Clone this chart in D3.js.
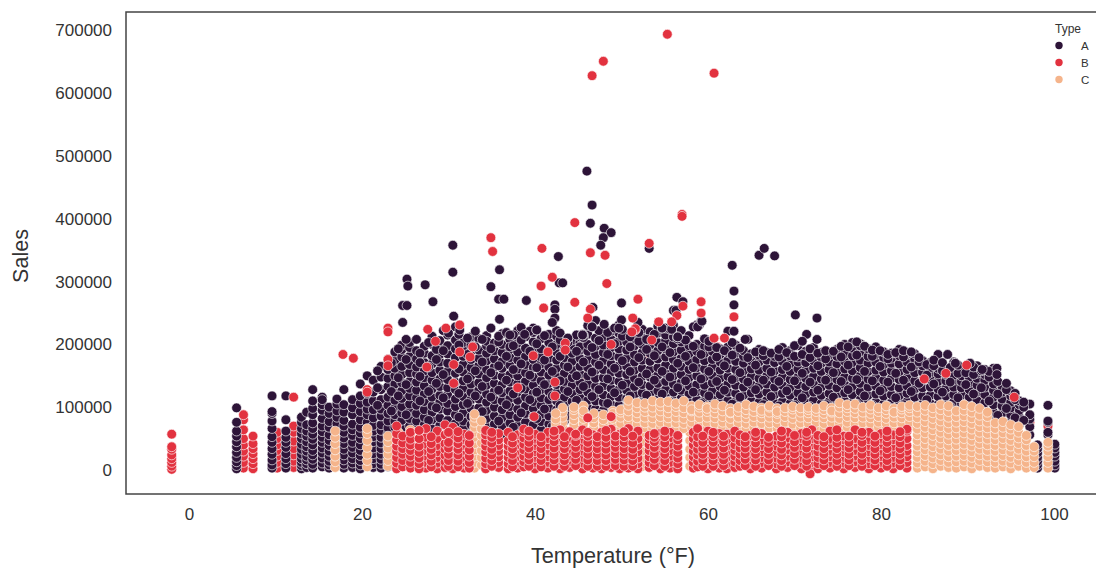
<!DOCTYPE html>
<html><head><meta charset="utf-8">
<script src="https://cdn.jsdelivr.net/npm/d3@7"></script>
<style>html,body{margin:0;background:#fff}svg{display:block}text{font-family:"Liberation Sans",Arial,sans-serif;fill:#333}</style>
</head><body><div id="c"></div>
<script>
// Each row: temperature (F), then sales values in thousands
const seriesA = [
[5.5,2,7,13,20,28,37,45,54,62,76,99],[9.6,3,8,16,25,34,44,53,66,78,90,93,118],[11.2,3,10,18,26,36,44,52,62,80,118],
[13.0,2,7,12,18,25,33,41,50,58,66,76,84],[13.6,4,10,16,22,30,37,45,54,62,72,92],[14.3,3,9,17,24,31,40,49,57,66,75,88,98,110,128],
[15.4,5,11,19,27,35,44,52,61,70,82,95,104,116,112],[16.2,3,8,14,22,30,39,47,56,68,77,90,100],[17.1,66,74,84,94,105,113],
[17.9,3,9,16,24,33,42,51,60,70,79,92,104,128],[18.9,4,11,18,27,36,44,55,64,73,88,99,112],[19.8,2,8,15,23,31,40,50,59,68,80,93,106,118,137],
[20.6,66,76,88,97,108,122,150],[21.3,4,10,18,26,35,45,53,62,71,83,96,110,124,143],[22.2,3,9,17,25,34,43,52,63,72,86,97,112,128,148,165],
[23.0,5,12,20,30,39,48,58,67,78,90,103,116,133,146,160,176],[23.8,68,78,88,99,111,124,137,150,162,175,188],
[24.6,66,79,91,101,114,126,139,152,165,180,192,199],[25.5,70,82,93,105,118,130,141,155,168,181,195,203],
[26.3,67,78,90,103,115,127,140,153,164,177,190,208],[27.2,72,84,96,109,121,134,147,158,171,186,197],
[28.1,66,80,92,102,116,129,143,155,169,182,200,213],[29.0,71,83,97,108,119,133,145,159,172,184,196,206],
[29.9,68,79,94,106,120,131,144,157,170,185,198,215],[30.8,60,74,88,101,113,128,140,154,166,179,193,207,228],
[31.7,66,78,91,104,117,130,142,156,168,181,194,203],[32.6,58,72,85,98,112,124,137,150,163,176,189,199,212],
[33.5,61,74,87,99,113,127,139,153,166,178,191,209],[34.4,56,69,82,95,108,121,135,147,160,174,186,198,214,205],
[35.3,60,73,86,100,112,125,138,151,164,177,190,202],[36.2,57,70,83,96,110,123,136,149,162,173,187,200,217],
[37.1,62,75,88,101,114,126,140,152,167,179,192,208,196],[38.0,58,71,84,97,111,124,137,150,161,175,188,202,222],
[38.9,63,76,90,102,116,129,141,155,168,181,194,212],[39.8,59,72,85,98,109,122,135,148,163,176,190,204,219,226],
[40.7,64,77,89,103,115,128,142,156,169,180,193,209],[41.6,60,73,86,99,112,125,138,151,164,178,191,203,216],
[42.5,72,85,96,110,123,136,149,162,175,188,200,213,222],[43.4,78,90,104,116,129,141,154,167,179,192,205],
[44.3,85,97,109,122,135,147,160,173,186,198,207],[45.2,90,102,115,128,140,153,165,178,191,203,212,196],
[46.1,86,99,111,124,137,150,163,176,189,200,216,230],[47.0,84,97,110,122,133,146,159,172,184,197,210,238],
[47.9,82,95,108,120,134,147,160,174,187,199,212,225],[48.8,78,91,104,117,130,143,156,169,182,195,208,221],
[49.7,76,90,103,116,128,141,154,166,180,193,205,218,231],[50.6,88,101,114,127,139,152,165,178,191,204,216],
[51.5,95,108,120,133,146,159,172,184,198,208],[52.4,98,110,123,136,149,162,175,187,200,211,224],
[53.3,96,109,122,134,148,160,173,186,199,212,220],[54.2,100,113,126,138,151,163,177,190,203,218,229],
[55.1,103,116,128,141,154,167,180,193,206,215,226],[56.0,98,111,124,137,150,162,176,188,201,212,254,231],
[56.9,101,114,127,139,152,165,178,191,204,222],[57.8,95,108,121,134,147,160,173,185,198,214],
[58.7,99,112,125,136,150,163,176,189,200,231],[59.6,97,110,123,135,148,161,174,186,197,209],
[60.5,100,113,126,139,151,164,176,189,198],[61.4,94,107,120,133,146,159,172,184,193],
[62.3,98,111,124,137,149,162,175,187,196,221],[63.2,96,109,122,135,147,160,173,186,199],
[64.1,93,106,119,132,145,158,170,181,190],[65.0,97,110,123,136,149,161,174,185],
[65.9,95,108,121,134,146,159,172,183,192],[66.8,98,111,124,137,150,162,175,187],
[67.7,94,107,120,132,145,158,171,181],[68.6,96,109,122,135,148,160,173,184,195],
[69.5,93,106,119,131,144,157,169,182,190],[70.4,97,110,123,136,148,161,172,180,198],
[71.3,95,108,121,133,146,159,171,183,189],[72.2,98,111,124,137,149,162,174,184,195],
[73.1,94,106,119,132,145,157,170,179,187],[74.0,96,109,122,135,147,160,172,183],
[74.9,93,105,118,131,144,156,169,181,192],[75.8,97,110,123,136,148,161,173,185,200],
[76.7,95,107,120,133,146,158,171,182,194,203],[77.6,99,112,125,138,150,163,175,188,201,198],
[78.5,94,106,119,132,145,157,170,181,193],[79.4,96,108,121,134,147,159,172,184,196],
[80.3,92,105,118,130,143,156,168,179,188],[81.2,95,107,120,133,146,158,170,178,186],
[82.1,93,106,118,131,144,156,169,182,192],[83.0,96,109,122,134,147,160,172,184,187],
[83.9,90,103,116,129,142,155,167,176,185],[84.8,92,105,118,131,143,156,166,174],
[85.7,94,106,119,132,144,155,163,171],[86.6,90,104,117,129,141,153,162,169,184],
[87.5,92,105,118,130,142,152,160],[88.4,96,108,120,132,143,151,172,170],
[89.3,94,106,119,131,141,150,161],[90.2,90,103,116,128,139,148,158],
[91.1,86,99,111,124,135,146,154,166],[92.0,82,95,107,120,132,143,152,160],
[93.0,80,92,104,116,127,137,150,162,152],[94.0,78,90,102,113,124,132],
[95.0,76,88,99,108,118,126],[96.0,72,84,95,104,110],[97.2,56,69,81,88,105],
[98.1,3,8,14,20,27,34,40],[99.3,56,60,76,78,103],[100.1,3,8,14,22,28,35,41]
];
// Second layer of A dots, off the columns above, that breaks up the texture of the mass
const seriesAOver = [
[21.8,103,131,158],[23.4,94,125,171],[24.2,118,147,193],[25.1,88,136,176,208],[26.7,110,149,186,171],[27.7,79,125,164,203],[28.6,99,138,176,192],
[29.4,115,152,190,222],[31.2,84,122,161,199,216],[32.2,106,145,184,210],[33.1,72,118,158,196,221],[33.9,93,133,172,208],[34.9,116,155,193,226],
[35.8,78,127,166,204,213],[36.7,104,143,181,219],[37.5,68,121,160,198,215],[38.4,91,130,169,207,227],[39.4,112,151,189,221],[40.2,82,124,163,201,223],
[41.1,97,136,175,214],[42.0,69,118,157,196,235],[42.9,103,142,181,207,218],[43.8,86,125,164,203,210],[44.8,111,150,189,215],[45.6,94,133,172,211,215],
[46.6,117,156,195,228],[47.4,89,128,167,206,222],[48.4,106,145,184,219],[49.2,84,123,162,201,226],[50.1,96,135,174,213,224],[51.0,118,157,196,212],
[52.0,107,140,179,205,219],[52.9,119,153,192,208],[53.8,104,143,182,216],[54.7,121,157,196,226],[55.6,109,148,187,224],[56.5,131,170,209,212],
[57.4,103,142,181,207],[58.3,124,163,197,228],[59.2,106,145,184,237],[60.1,118,157,196,205],[61.0,102,141,180,195],[61.9,127,166,190],
[62.8,105,144,183,203],[63.7,116,155,194],[64.6,101,140,179,208],[65.5,128,167,188],[66.4,104,143,182,190],[67.3,117,156,186],
[68.2,102,141,180,192],[69.1,126,165,187],[70.0,103,142,181,198],[70.9,115,154,184],[71.8,101,140,179,193],[72.7,127,166,186],
[73.6,104,143,177,190],[74.5,116,155,189],[75.4,102,141,180,197],[76.2,128,167,196],[77.2,105,144,183,204],[78.1,118,157,197],
[79.0,103,142,181,191],[79.9,126,165,190],[80.8,101,140,177,184],[81.7,115,154,187],[82.6,104,143,180,190],[83.5,125,164,188],
[84.4,99,138,172,179],[85.3,112,151,168],[86.1,98,137,166,175],[87.1,124,158,171],[88.0,101,140,163],[88.9,115,154,167],[89.8,97,136,155],
[90.7,121,152,164],[91.6,93,131,158],[92.5,110,148,157],[93.5,87,121,141],[94.5,98,128,138],[95.5,83,112,122],[96.5,79,100,108]
];
const seriesC = [
[16.9,4,13,22,32,42,52,62],[20.6,5,15,25,36,47,58,66],[23.0,6,15,25,35,45,54],[24.2,8,18,28,38,48,60],[25.6,5,14,24,34,44,56,64],
[33.0,3,12,22,32,42,52,60,68,76,84,89],[33.8,8,20,31,43,55,66,78],[52.3,5,18,30,44,58],[57.9,6,20,33,47,60],[44.5,66,72,80,88,96,100],[43.2,68,76,84,92,99],[42.4,68,74,81,90],
[45.6,66,74,82,90,102,94],[46.8,68,75,83,90],[47.9,66,73,80,88],[49.0,68,75,82,94,90],[49.9,66,74,84,92,96],[50.8,67,76,85,94,103,111],
[51.8,65,73,83,91,99,107],[52.7,67,75,84,93,100,106],[53.6,66,74,83,92,100,110],[54.5,68,76,85,94,102,108],[55.4,65,74,83,91,99,109],
[56.3,67,75,84,93,101,106],[57.2,66,74,82,91,99,110],[58.1,68,76,85,94,102,96],[59.0,65,74,83,92,100,104],[59.9,67,75,84,93,101,98],
[60.8,66,74,83,91,99,105],[61.7,68,76,85,94,102],[62.6,65,73,82,91,98,92],[63.5,67,75,84,93,100],[64.4,66,74,83,90,96,104],
[65.3,68,76,85,93,101],[66.2,65,74,83,91,99,95],[67.1,67,75,84,92,100,102],[68.0,66,74,82,90,98,93],[68.9,68,76,85,93,99],
[69.8,65,73,82,90,97,101],[70.7,67,75,84,92,99],[71.6,66,74,83,91,96,100],[72.5,68,76,85,93,98],[73.4,65,74,83,90,96,102],
[74.3,67,75,84,92,99,94],[75.2,66,74,82,91,100,107],[76.1,68,76,85,93,99,104],[77.0,65,73,83,91,98,105],[77.9,67,75,84,92,100],
[78.8,66,74,83,90,97,103],[79.7,68,76,85,93,99],[80.6,65,74,82,90,96,102],[81.5,67,75,84,92,98,92],[82.4,66,74,83,91,97,101],
[83.3,68,76,85,93,99,103],
[84.2,3,11,20,29,38,47,56,65,74,83,92,101],[85.1,5,14,23,32,41,50,59,68,77,86,95,103],[86.0,2,10,19,28,37,46,55,64,73,82,91,99],
[86.9,6,15,24,33,42,51,60,69,78,87,96,104],[87.8,4,12,21,30,39,48,57,66,75,84,93,102],[88.7,3,13,22,31,40,49,58,67,76,85,94],
[89.6,5,14,23,32,41,50,59,68,77,86,95,104],[90.5,2,11,20,29,38,47,56,65,74,83,92,101],[91.4,6,15,24,33,42,51,60,69,78,87,98],
[92.3,4,13,22,31,40,49,58,67,76,85,92],[93.2,3,12,21,30,39,48,57,66,75],[94.1,5,14,23,32,41,50,59,68,77],
[95.0,2,11,20,29,38,47,56,65,72],[95.9,6,15,24,33,42,51,60,69],[96.8,3,12,21,30,39,48,55],[97.7,4,12,21,30,37],
[99.3,3,12,21,30,38,44]
];
const seriesB = [
[-2.0,1,6,12,18,24,33,37,57],[7.4,2,10,18,26,34,42,54],
[24.0,2,11,20,30,38,48,58,70],[24.7,5,15,25,34,43,54],[27.4,3,12,22,31,41,52,66],[28.7,2,11,20,29,39,50,62],[29.6,4,13,23,33,42,56,72],
[30.5,2,10,19,28,37,46,55,68],[31.8,3,11,20,30,39,48,57],[34.3,2,10,19,29,38,47,56,63],[35.8,4,12,21,30,39,48,58],[36.9,2,10,20,29,38,47,60],
[38.0,3,11,21,30,40,49,56],[38.7,5,13,22,32,41,51,61,65],[40.0,2,11,20,29,39,49,57],[41.5,3,12,21,31,40,50,60],[42.9,2,10,19,28,38,48,58,64],
[44.0,4,13,22,31,41,50,61],[45.5,2,11,20,30,39,49,58,64],[46.7,3,12,21,30,40,49,56],[47.7,2,10,20,29,38,48,60],[48.8,4,13,22,31,41,50,58,65],
[49.8,2,11,21,30,39,49,57],[50.8,3,12,20,29,38,48,59,66],[51.9,2,10,19,29,39,50,62],[53.2,4,12,21,31,40,50,55],[54.5,2,11,20,30,39,47,58],
[55.6,3,12,22,31,41,51,60],[56.5,2,10,19,28,38,48,55],[58.3,3,12,21,30,40,50,60],[58.8,5,14,24,33,43,53,66],[60.0,2,11,20,29,39,49,62],
[61.3,3,12,21,31,41,50,58],[62.2,2,10,20,29,38,48,57],[63.1,4,13,22,31,40,51,62],[64.9,2,11,21,30,40,49,55],[66.2,3,12,20,29,39,48,58],
[67.9,2,10,19,28,38,47,54],[69.2,4,13,22,32,41,51,60],[70.8,2,11,20,30,39,50,58],[72.0,3,12,21,31,40,50,64],[72.7,2,10,20,29,38,48,55],
[74.1,3,12,21,30,40,49,62],[75.7,2,11,20,29,38,48,54],[77.0,4,13,22,31,41,50,64],[78.6,2,10,20,29,39,48,60],[80.0,3,12,21,30,40,49,58],
[81.4,2,11,20,29,38,48,56],[83.0,3,12,21,30,39,50,62,65],[71.8,-6],
[25.6,3,12,22,31,40,49,60],[26.6,2,10,19,28,38,50,63],[28.0,5,14,24,33,42,53],[30.0,6,15,25,35,44,60],[31.1,5,14,24,33,42,51,61],[32.4,3,12,22,32,43,55],
[35.0,6,15,24,33,43,52,60],[37.4,5,15,25,34,43,53],[39.3,6,16,25,35,44,54,62],[40.7,5,15,25,34,44,53],[42.2,6,16,25,35,45,55,62],[43.4,6,15,24,34,43,53],
[44.7,7,17,26,36,45,55,57],[46.1,6,16,25,35,44,54,60],[47.2,6,15,25,34,44,53],[48.2,6,15,24,33,43,52,63],[49.3,7,17,26,36,45,54],[50.3,6,16,25,34,44,53,61],
[51.3,6,15,24,33,43,54],[53.8,7,17,26,36,45,52,58],[55.0,6,15,25,34,43,53,62],[59.4,6,16,25,34,44,54],[60.6,6,15,24,34,44,53,60],[61.8,7,16,25,35,45,54],
[63.7,6,15,25,35,45,56],[64.3,7,17,26,35,44,53],[65.5,6,16,25,34,43,53,60],[67.0,7,16,25,34,44,52],[68.5,6,15,24,33,43,53,62],[70.0,7,17,26,36,45,55],
[71.4,6,15,25,35,45,55,60],[73.4,7,16,25,34,44,53],[74.9,6,15,25,34,43,52,64],[76.3,7,16,25,35,44,54],[77.8,6,15,25,35,44,55,60],[79.3,7,16,25,34,44,54],
[80.7,6,15,25,34,44,53,62],[82.2,7,16,25,34,43,53,61]
];
// B dots that sit underneath the A dots and only show as slivers
const seriesBUnder = [
[6.3,3,12,22,30,40,50,64,80,88],[10.2,3,12,22,31,40,50,60],[12.1,4,14,24,34,46,60,70],
[52.8,195,178],[57.5,205,188],[61.1,196,183],[60.1,190],[45.8,150],[37.6,172],[33.8,160],[40.6,145],[86.0,150],[93.2,158],[95.0,104],[97.2,76],[99.3,70],[92.0,118]
];
const outliersA = [[46,476],[46.6,422],[46.4,393],[48,385],[48.8,378],[47.9,370],[47.6,358],[53.2,353],[30.5,358],[30.5,315],[25.2,304],[25.3,293],[27.3,295],[28.2,268],[42.7,340],[35.9,319],[34.9,292],[42.8,298],[43.2,298],[35.8,272],[36.4,272],[39,270],[24.7,262],[25.2,262],[30.6,245],[50,266],[46.7,259],[35.9,240],[24.7,235],[42.3,263],[42.3,256],[42.3,242],[42,235],[48,232],[50,239],[31.3,223],[30,218],[34.9,226],[40.2,223],[46.6,228],[45.5,216],[49.7,226],[51.9,235],[62.8,326],[63,285],[65.9,342],[66.5,353],[67.7,341],[70.1,247],[72.6,242],[56.4,275],[57.1,268],[56.3,254],[59,231],[63,263],[63,221],[71.4,216],[70.9,205],[72.6,208],[87.7,184],[88.6,170],[90.3,170],[91.7,160],[93.4,162],[93.4,152],[37.1,215],[38.8,216],[43.8,210],[45.5,215],[54.7,226],[55.8,224],[56.5,212],[58.8,228],[59.3,237],[64.3,208]];
const outliersB = [[55.3,694],[47.9,651],[46.6,628],[60.7,632],[57,407],[57,404],[44.6,394],[34.9,370],[35.1,348],[40.8,353],[53.2,361],[46.4,346],[48.1,342],[48.3,297],[40.7,293],[42,307],[51.9,272],[44.6,267],[41,258],[46.4,256],[46.1,242],[51.3,242],[51.6,223],[31.3,231],[29.7,226],[27.6,224],[23,226],[23,220],[59.2,268],[57.1,261],[59.2,250],[63,244],[56.4,246],[54.3,236],[55.8,236],[60.7,210],[61.9,210],[53.5,207],[51.6,225],[51.2,220],[32.8,196],[31.3,188],[32.5,180],[30.6,168],[30.6,138],[43.5,202],[43.5,191],[41.5,188],[39.8,182],[48.8,200],[42.3,140],[42.3,118],[38,131],[46.1,83],[48.8,85],[39.9,85],[87.5,154],[89.9,167],[85,145],[95.4,116],[17.8,184],[19,178],[20.6,128],[20.6,124],[23,176],[23,166],[27.5,164],[28.5,205],[12.1,116]];
const typeLabels = ["A","B","C"];
const typeColors = ["#2d1438","#e2323f","#f5b48b"];
const xTicks = [0,20,40,60,80,100];
const yTicks = [0,100000,200000,300000,400000,500000,600000,700000];

const W=1096,H=570;
const x=d3.scaleLinear().domain([0,100]).range([189,1054]);
const y=d3.scaleLinear().domain([0,700000]).range([470,30.5]);
const svg=d3.select("#c").append("svg").attr("width",W).attr("height",H);

const flatten=t=>t.flatMap(r=>r.slice(1).map(v=>[r[0],v]));
const layers=[
 [flatten(seriesBUnder),typeColors[1]],
 [flatten(seriesA),typeColors[0]],
 [[...flatten(seriesAOver),...outliersA],typeColors[0]],
 [flatten(seriesC),typeColors[2]],
 [[...flatten(seriesB),...outliersB],typeColors[1]]
];
layers.forEach(([pts,col])=>{
 svg.append("g").selectAll("circle").data(pts).join("circle")
  .attr("cx",d=>x(d[0])).attr("cy",d=>y(d[1]*1000)).attr("r",4.9)
  .attr("fill",col).attr("stroke","#fff").attr("stroke-width",0.8).attr("stroke-opacity",0.8);
});

const gx=svg.append("g").attr("transform","translate(0,494)").call(d3.axisBottom(x).tickValues(xTicks).tickSize(0).tickPadding(14).tickFormat(d3.format("d")));
const gy=svg.append("g").attr("transform","translate(126,0)").call(d3.axisLeft(y).tickValues(yTicks).tickSize(0).tickPadding(14).tickFormat(d3.format("d")));
[gx,gy].forEach(g=>{g.select(".domain").remove();g.selectAll("text").style("font-size","17px");});
svg.append("rect").attr("x",126).attr("y",12).attr("width",1000).attr("height",482).attr("fill","none").attr("stroke","#444").attr("stroke-width",1.5);

svg.append("text").attr("x",613).attr("y",563).attr("text-anchor","middle").style("font-size","21.7px").text("Temperature (°F)");
svg.append("text").attr("transform","translate(28,256) rotate(-90)").attr("text-anchor","middle").style("font-size","21.5px").text("Sales");

svg.append("text").attr("x",1055).attr("y",33).style("font-size","12px").text("Type");
typeLabels.forEach((t,i)=>{
 svg.append("circle").attr("cx",1059).attr("cy",45.5+i*17).attr("r",3.7).attr("fill",typeColors[i]);
 svg.append("text").attr("x",1081).attr("y",49.5+i*17).style("font-size","11.5px").text(t);
});
</script></body></html>
